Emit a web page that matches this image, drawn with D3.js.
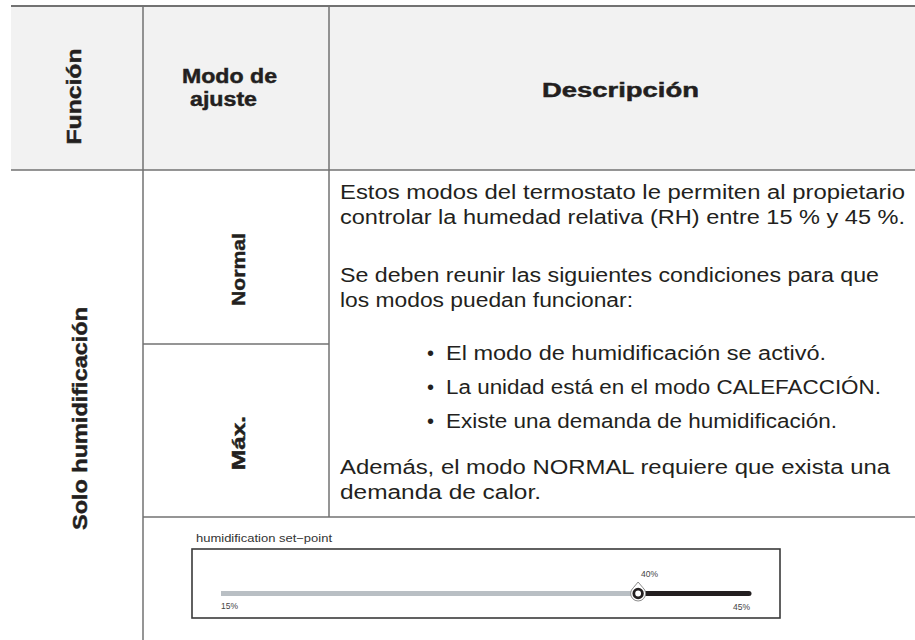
<!DOCTYPE html>
<html>
<head>
<meta charset="utf-8">
<script src="https://cdn.jsdelivr.net/npm/d3@7"></script>
<style>
  html, body { margin: 0; padding: 0; background: #fff; }
  svg { display: block; font-family: "Liberation Sans", Arial, Helvetica, sans-serif; }
</style>
</head>
<body>
<svg id="chart" width="915" height="640"></svg>
<script>
// ---------- data ----------
const headerLabels = ["Función", "Modo de\najuste", "Descripción"];
const functionLabel = "Solo humidificación";
const modeLabels = ["Normal", "Máx."];
const descriptionIntro = [
  "Estos modos del termostato le permiten al propietario",
  "controlar la humedad relativa (RH) entre 15 % y 45 %."
];
const descriptionConditions = [
  "Se deben reunir las siguientes condiciones para que",
  "los modos puedan funcionar:"
];
const descriptionBullets = [
  "El modo de humidificación se activó.",
  "La unidad está en el modo CALEFACCIÓN.",
  "Existe una demanda de humidificación."
];
const descriptionNote = [
  "Además, el modo NORMAL requiere que exista una",
  "demanda de calor."
];
const sliderTitle = "humidification set\u2212point";
const sliderDomain = [15, 45];
const sliderTickLabels = ["15%", "45%"];
const sliderSetPointLabel = "40%";
const sliderKnobValue = 38.7;

// ---------- layout (pixel geometry only) ----------
const svg = d3.select("#chart");
const colX = [11, 143, 329, 915];
const rowY = [6, 170, 344, 517, 640];
const lineColor = "#727272";
const textColor = "#231f20";
// rendered widths of the text runs in the reference
const introW = [565, 565], condW = [539, 293], bulletW = [380, 435, 391], noteW = [550, 201];

function fit(sel, w) {
  if (w) sel.attr("textLength", w).attr("lengthAdjust", "spacingAndGlyphs");
  return sel;
}

// header background
svg.append("rect")
  .attr("x", colX[0]).attr("y", rowY[0])
  .attr("width", colX[3] - colX[0]).attr("height", rowY[1] - rowY[0])
  .attr("fill", "#f2f2f2");

// grid lines
const lines = [
  [colX[0], rowY[0], colX[3], rowY[0], 2],
  [colX[0], rowY[1], colX[3], rowY[1], 1.5],
  [colX[1], rowY[0], colX[1], rowY[4], 1.5],
  [colX[2], rowY[0], colX[2], rowY[3], 1.5],
  [colX[1], rowY[2], colX[2], rowY[2], 1.5],
  [colX[1], rowY[3], colX[3], rowY[3], 1.5]
];
svg.append("g").selectAll("line").data(lines).join("line")
  .attr("x1", d => d[0]).attr("y1", d => d[1])
  .attr("x2", d => d[2]).attr("y2", d => d[3])
  .attr("stroke", lineColor).attr("stroke-width", d => d[4]);

// header text
const hdr = svg.append("g").attr("fill", textColor).attr("stroke", textColor).attr("stroke-width", 0.45)
  .attr("font-weight", "bold").attr("font-size", 19.5);
fit(hdr.append("text")
  .attr("transform", `translate(80.5,96.5) rotate(-90)`)
  .attr("text-anchor", "middle")
  .text(headerLabels[0]), 96);
const modoLines = headerLabels[1].split("\n");
fit(hdr.append("text").attr("x", 182).attr("y", 83).text(modoLines[0]), 95);
fit(hdr.append("text").attr("x", 190).attr("y", 106).text(modoLines[1]), 67);
fit(hdr.append("text").attr("x", 542).attr("y", 97).text(headerLabels[2]), 157);

// function label
fit(svg.append("text")
  .attr("transform", `translate(87,418.5) rotate(-90)`)
  .attr("text-anchor", "middle")
  .attr("font-weight", "bold").attr("font-size", 20).attr("fill", textColor)
  .attr("stroke", textColor).attr("stroke-width", 0.45)
  .text(functionLabel), 223);

// mode labels
const modeCenters = [269.5, 443];
const modeW = [73, 54];
svg.append("g").selectAll("text").data(modeLabels).join("text")
  .attr("transform", (d, i) => `translate(245,${modeCenters[i]}) rotate(-90)`)
  .attr("text-anchor", "middle")
  .attr("font-weight", "bold").attr("font-size", 19).attr("fill", textColor)
  .attr("stroke", textColor).attr("stroke-width", 0.45)
  .attr("textLength", (d, i) => modeW[i]).attr("lengthAdjust", "spacingAndGlyphs")
  .text(d => d);

// description
const desc = svg.append("g").attr("fill", textColor).attr("font-size", 20);
const paraX = 340;
desc.selectAll("text.intro").data(descriptionIntro).join("text")
  .attr("class", "intro").attr("x", paraX).attr("y", (d, i) => 198.5 + i * 25)
  .attr("textLength", (d, i) => introW[i]).attr("lengthAdjust", "spacingAndGlyphs")
  .text(d => d);
desc.selectAll("text.cond").data(descriptionConditions).join("text")
  .attr("class", "cond").attr("x", paraX).attr("y", (d, i) => 281.5 + i * 25)
  .attr("textLength", (d, i) => condW[i]).attr("lengthAdjust", "spacingAndGlyphs")
  .text(d => d);
const bulletG = desc.selectAll("g.bullet").data(descriptionBullets).join("g")
  .attr("class", "bullet").attr("transform", (d, i) => `translate(0,${359.5 + i * 34})`);
bulletG.append("text").attr("x", 427).attr("y", 0).text("\u2022");
bulletG.append("text").attr("x", 446).attr("y", 0)
  .attr("textLength", (d, i) => bulletW[i]).attr("lengthAdjust", "spacingAndGlyphs")
  .text(d => d);
desc.selectAll("text.note").data(descriptionNote).join("text")
  .attr("class", "note").attr("x", paraX).attr("y", (d, i) => 473.5 + i * 25)
  .attr("textLength", (d, i) => noteW[i]).attr("lengthAdjust", "spacingAndGlyphs")
  .text(d => d);

// slider widget
const sg = svg.append("g");
fit(sg.append("text")
  .attr("x", 196).attr("y", 542)
  .attr("font-size", 11.5).attr("fill", "#333")
  .text(sliderTitle), 136);
sg.append("rect")
  .attr("x", 192).attr("y", 549).attr("width", 588).attr("height", 69)
  .attr("fill", "#fff").attr("stroke", "#3a3a3a").attr("stroke-width", 1.6);

const sx = d3.scaleLinear().domain(sliderDomain).range([221, 749]);
const trackY = 593.5;
const knobX = sx(sliderKnobValue);
sg.append("line")
  .attr("x1", sx(sliderDomain[0])).attr("x2", knobX)
  .attr("y1", trackY).attr("y2", trackY)
  .attr("stroke", "#b9bfc4").attr("stroke-width", 5);
sg.append("line")
  .attr("x1", knobX).attr("x2", sx(sliderDomain[1]))
  .attr("y1", trackY).attr("y2", trackY)
  .attr("stroke", "#231f20").attr("stroke-width", 5).attr("stroke-linecap", "round");

// knob (teardrop)
const r = 7.5;
const a = Math.PI / 4.5;
const knobPath = d3.path();
knobPath.moveTo(knobX, trackY - 11.5);
knobPath.lineTo(knobX + r * Math.sin(a), trackY - r * Math.cos(a));
knobPath.arc(knobX, trackY, r, -Math.PI / 2 + a, 3 * Math.PI / 2 - a);
knobPath.closePath();
sg.append("path").attr("d", knobPath.toString())
  .attr("fill", "#fff").attr("stroke", "#8a8a8a").attr("stroke-width", 1);
sg.append("circle").attr("cx", knobX).attr("cy", trackY).attr("r", 4.3)
  .attr("fill", "#fff").attr("stroke", "#231f20").attr("stroke-width", 2.8);

const lbl = sg.append("g").attr("font-size", 9).attr("fill", "#444");
fit(lbl.append("text").attr("x", sx(sliderDomain[0])).attr("y", 609).text(sliderTickLabels[0]), 17);
fit(lbl.append("text").attr("x", sx(sliderDomain[1]) + 1).attr("y", 610).attr("text-anchor", "end").text(sliderTickLabels[1]), 17);
fit(lbl.append("text").attr("x", knobX + 3).attr("y", 577).text(sliderSetPointLabel), 17);
</script>
</body>
</html>
